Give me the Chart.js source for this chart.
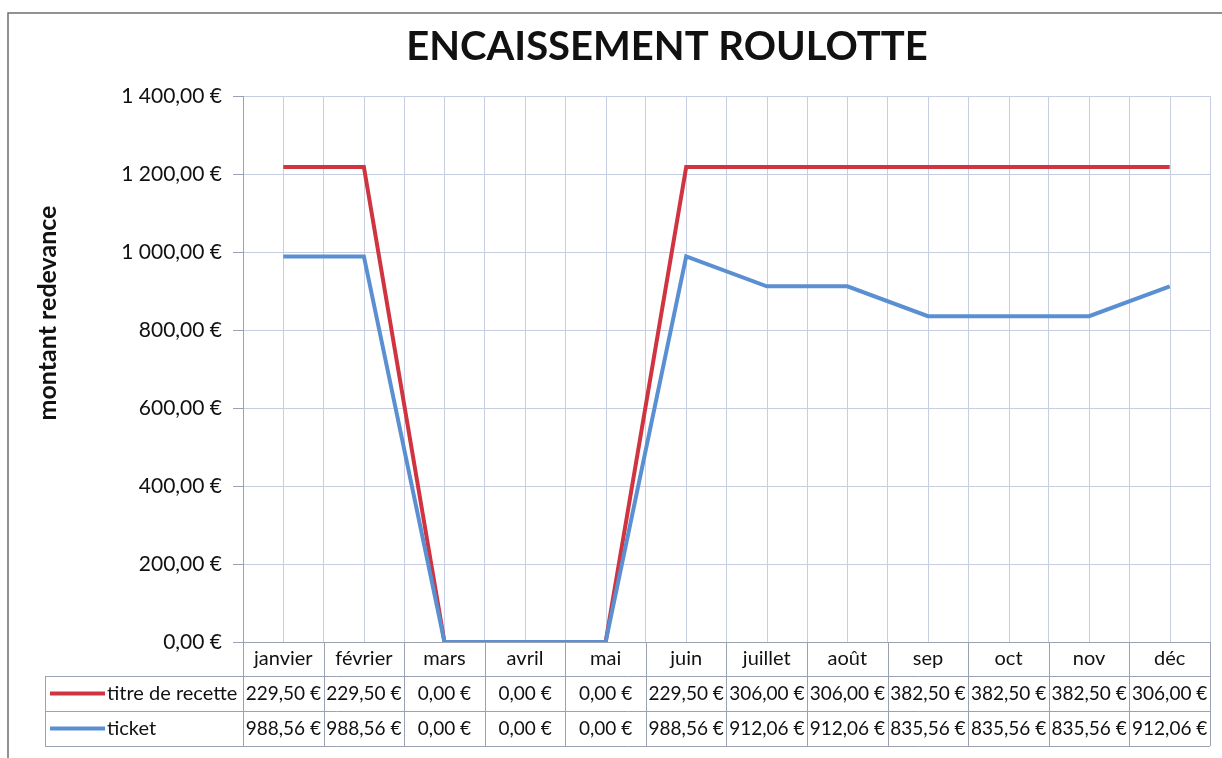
<!DOCTYPE html>
<html>
<head>
<meta charset="utf-8">
<script src="https://cdn.jsdelivr.net/npm/chart.js@4/dist/chart.umd.min.js"></script>
<style>
  body { margin: 0; background: #fff; }
  #wrap { width: 1222px; height: 758px; }
</style>
</head>
<body>
<div id="wrap"><canvas id="chart" width="1222" height="758"></canvas></div>
<script>
// Chart data
const months = ['janvier', 'février', 'mars', 'avril', 'mai', 'juin', 'juillet', 'août', 'sep', 'oct', 'nov', 'déc'];
const titreRecette = [229.50, 229.50, 0, 0, 0, 229.50, 306.00, 306.00, 382.50, 382.50, 382.50, 306.00];
const ticket = [988.56, 988.56, 0, 0, 0, 988.56, 912.06, 912.06, 835.56, 835.56, 835.56, 912.06];
const yTicks = [0, 200, 400, 600, 800, 1000, 1200, 1400];

const RED = '#cf3440';
const BLUE = '#5a8fd2';
const GRID = '#c6cee0';
const FONT = 'Lato, "Open Sans", sans-serif';

// French euro format: "1 400,00 €"
function euro(v) {
    const parts = v.toFixed(2).split('.');
    const intPart = parts[0].replace(/\B(?=(\d{3})+(?!\d))/g, ' ');
    return intPart + ',' + parts[1] + ' €';
}

const ROW_TOP_H = 34, ROW_H = 35, LABEL_LEFT = 45;

// frame, background, title texts
const framePlugin = {
    id: 'frame',
    beforeDraw(chart) {
        const c = chart.ctx;
        c.save();
        c.fillStyle = '#fff';
        c.fillRect(0, 0, chart.width, chart.height);
        c.strokeStyle = '#6f6f6f';
        c.lineWidth = 1.5;
        c.beginPath();
        c.moveTo(8, chart.height);
        c.lineTo(8, 13);
        c.lineTo(chart.width, 13);
        c.stroke();

        c.fillStyle = '#111';
        c.textAlign = 'center';
        c.textBaseline = 'middle';
        c.font = 'bold 40px ' + FONT;
        c.fillText('ENCAISSEMENT ROULOTTE', 667, 47);

        c.translate(48, 313);
        c.rotate(-Math.PI / 2);
        c.font = 'bold 25px ' + FONT;
        c.fillText('montant redevance', 0, 0);
        c.restore();
    }
};

// extra vertical gridlines at category centers
const centerGrid = {
    id: 'centerGrid',
    beforeDatasetsDraw(chart) {
        const c = chart.ctx, xs = chart.scales.x, a = chart.chartArea;
        c.save();
        c.strokeStyle = GRID;
        c.lineWidth = 1;
        months.forEach((m, i) => {
            const x = Math.round(xs.getPixelForValue(i)) + 0.5;
            c.beginPath();
            c.moveTo(x, a.top);
            c.lineTo(x, a.bottom);
            c.stroke();
        });
        c.restore();
    }
};

// data table below the plot
const dataTable = {
    id: 'dataTable',
    afterDraw(chart) {
        const c = chart.ctx, xs = chart.scales.x, a = chart.chartArea;
        const cw = xs.getPixelForValue(1) - xs.getPixelForValue(0);
        const left0 = xs.getPixelForValue(0) - cw / 2;
        const right = left0 + cw * months.length;
        const y0 = a.bottom, y1 = y0 + ROW_TOP_H, y2 = y1 + ROW_H, y3 = y2 + ROW_H;

        c.save();
        c.strokeStyle = '#9aa2b2';
        c.lineWidth = 1;
        const line = (x1, ya, x2, yb) => {
            c.beginPath(); c.moveTo(x1, ya); c.lineTo(x2, yb); c.stroke();
        };
        line(left0, y0 + 0.5, right, y0 + 0.5);
        [y1, y2, y3].forEach(y => line(LABEL_LEFT, y + 0.5, right, y + 0.5));
        for (let i = 0; i <= months.length; i++) {
            const x = Math.round(left0 + cw * i) + 0.5;
            line(x, y0, x, y3);
        }
        line(LABEL_LEFT + 0.5, y1, LABEL_LEFT + 0.5, y3);

        c.fillStyle = '#111';
        c.textBaseline = 'middle';
        c.textAlign = 'center';
        months.forEach((m, i) => {
            const cx = left0 + cw * (i + 0.5);
            c.font = '20px ' + FONT;
            c.fillText(m, cx, (y0 + y1) / 2);
            c.font = '19px ' + FONT;
            c.fillText(euro(titreRecette[i]), cx, (y1 + y2) / 2);
            c.fillText(euro(ticket[i]), cx, (y2 + y3) / 2);
        });

        // legend keys in row headers
        const rows = [
            { label: 'titre de recette', color: RED, y: (y1 + y2) / 2 },
            { label: 'ticket', color: BLUE, y: (y2 + y3) / 2 }
        ];
        c.font = '20px ' + FONT;
        rows.forEach(r => {
            c.strokeStyle = r.color;
            c.lineWidth = 4;
            line(50, r.y, 105, r.y);
            c.textAlign = 'left';
            c.fillText(r.label, 107, r.y);
        });
        c.restore();
    }
};

const ctx = document.getElementById('chart').getContext('2d');
new Chart(ctx, {
    type: 'line',
    data: {
        labels: months,
        datasets: [
            {
                label: 'ticket',
                data: ticket,
                borderColor: BLUE,
                borderWidth: 4,
                pointRadius: 0,
                tension: 0,
                fill: false
            },
            {
                label: 'titre de recette',
                data: titreRecette,
                borderColor: RED,
                borderWidth: 4,
                pointRadius: 0,
                tension: 0,
                fill: false
            }
        ]
    },
    options: {
        responsive: false,
        animation: false,
        layout: { padding: { left: 10, right: 12, top: 96, bottom: 116 } },
        scales: {
            x: {
                offset: true,
                grid: { color: GRID, offset: true, drawTicks: false },
                border: { color: '#9aa2b2' },
                ticks: { display: false }
            },
            y: {
                stacked: true,
                min: 0,
                max: 1400,
                afterBuildTicks(scale) {
                    scale.ticks = yTicks.map(v => ({ value: v }));
                },
                afterFit(scale) { scale.width = 233; },
                grid: { color: GRID, tickLength: 10, tickColor: '#9aa2b2' },
                border: { color: '#9aa2b2' },
                ticks: {
                    padding: 11,
                    color: '#111',
                    font: { family: FONT, size: 21 },
                    callback: v => euro(v)
                }
            }
        },
        plugins: {
            legend: { display: false },
            tooltip: { enabled: false }
        }
    },
    plugins: [framePlugin, centerGrid, dataTable]
});
</script>
</body>
</html>
